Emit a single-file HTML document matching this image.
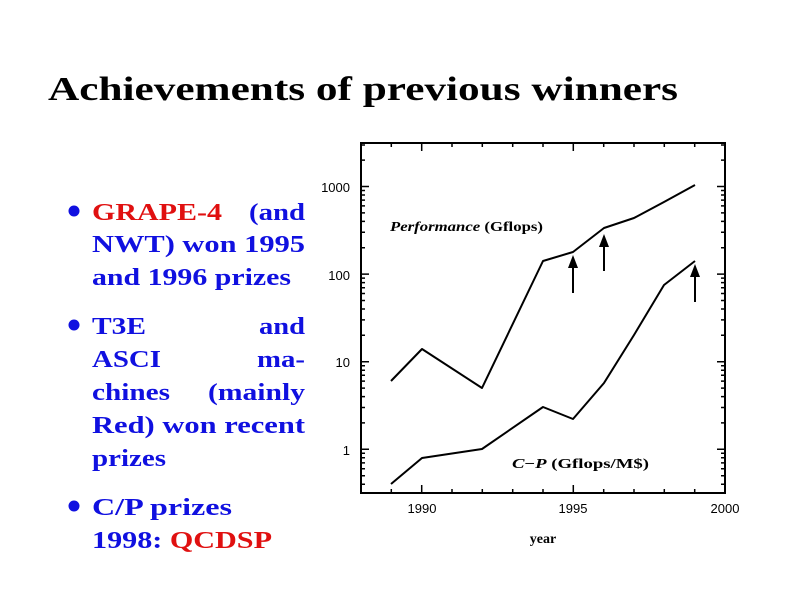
<!DOCTYPE html>
<html><head><meta charset="utf-8"><style>html,body{margin:0;padding:0;background:#fff;}svg{display:block}</style></head>
<body>
<svg width="800" height="600" xmlns="http://www.w3.org/2000/svg">
<g font-family="Liberation Serif, serif" font-weight="bold">
<text x="48" y="100" font-size="34" textLength="630" lengthAdjust="spacingAndGlyphs">Achievements of previous winners</text>
<g font-size="24" fill="#1010e0">
<circle cx="74" cy="211" r="5.5"/>
<circle cx="74" cy="325" r="5.5"/>
<circle cx="74" cy="506" r="5.5"/>
<text x="92" y="220" fill="#e01010" textLength="130" lengthAdjust="spacingAndGlyphs">GRAPE-4</text>
<text x="249" y="220" textLength="56" lengthAdjust="spacingAndGlyphs">(and</text>
<text x="92" y="252" textLength="213" lengthAdjust="spacingAndGlyphs">NWT) won 1995</text>
<text x="92" y="285" textLength="199" lengthAdjust="spacingAndGlyphs">and 1996 prizes</text>
<text x="92" y="334" textLength="54" lengthAdjust="spacingAndGlyphs">T3E</text>
<text x="259" y="334" textLength="46" lengthAdjust="spacingAndGlyphs">and</text>
<text x="92" y="367" textLength="69" lengthAdjust="spacingAndGlyphs">ASCI</text>
<text x="257" y="367" textLength="48" lengthAdjust="spacingAndGlyphs">ma-</text>
<text x="92" y="400" textLength="78" lengthAdjust="spacingAndGlyphs">chines</text>
<text x="208" y="400" textLength="97" lengthAdjust="spacingAndGlyphs">(mainly</text>
<text x="92" y="433" textLength="213" lengthAdjust="spacingAndGlyphs">Red) won recent</text>
<text x="92" y="466" textLength="74" lengthAdjust="spacingAndGlyphs">prizes</text>
<text x="92" y="515" textLength="140" lengthAdjust="spacingAndGlyphs">C/P prizes</text>
<text x="92" y="548" textLength="180" lengthAdjust="spacingAndGlyphs">1998: <tspan fill="#e01010">QCDSP</tspan></text>
</g></g>
<g font-family="Liberation Sans, sans-serif" font-size="13" fill="#000">
<text x="350" y="192" text-anchor="end">1000</text>
<text x="350" y="280" text-anchor="end">100</text>
<text x="350" y="367" text-anchor="end">10</text>
<text x="350" y="455" text-anchor="end">1</text>
<text x="422" y="513" text-anchor="middle">1990</text>
<text x="573" y="513" text-anchor="middle">1995</text>
<text x="725" y="513" text-anchor="middle">2000</text>
<text x="543" y="543" text-anchor="middle" font-weight="bold" font-family="Liberation Serif, serif" font-size="14">year</text>
<text x="390" y="231" font-family="Liberation Serif, serif" font-weight="bold" font-size="14" textLength="153" lengthAdjust="spacingAndGlyphs"><tspan font-style="italic">Performance</tspan> (Gflops)</text>
<text x="512" y="468" font-family="Liberation Serif, serif" font-weight="bold" font-size="14" textLength="137" lengthAdjust="spacingAndGlyphs"><tspan font-style="italic">C</tspan>−<tspan font-style="italic">P</tspan> (Gflops/M$)</text>
</g>
<rect x="361" y="143" width="364" height="350" fill="none" stroke="#000" stroke-width="2"/>
<path stroke="#000" stroke-width="1.5" fill="none" d="
M391.3 493v-4M421.7 493v-8M452 493v-4M482.3 493v-4M512.7 493v-4M543 493v-4M573.3 493v-8M603.7 493v-4M634 493v-4M664.3 493v-4M694.7 493v-4
M391.3 143v4M421.7 143v8M452 143v4M482.3 143v4M512.7 143v4M543 143v4M573.3 143v8M603.7 143v4M634 143v4M664.3 143v4M694.7 143v4
M361 449.3h8M725 449.3h-8M361 361.7h8M725 361.7h-8M361 274.1h8M725 274.1h-8M361 186.5h8M725 186.5h-8
M361 484.2h4M725 484.2h-4M361 475.7h4M725 475.7h-4M361 468.7h4M725 468.7h-4M361 462.9h4M725 462.9h-4M361 457.8h4M725 457.8h-4M361 453.3h4M725 453.3h-4
M361 422.9h4M725 422.9h-4M361 407.5h4M725 407.5h-4M361 396.6h4M725 396.6h-4M361 388.1h4M725 388.1h-4M361 381.1h4M725 381.1h-4M361 375.3h4M725 375.3h-4M361 370.2h4M725 370.2h-4M361 365.7h4M725 365.7h-4
M361 335.3h4M725 335.3h-4M361 319.9h4M725 319.9h-4M361 309h4M725 309h-4M361 300.5h4M725 300.5h-4M361 293.5h4M725 293.5h-4M361 287.7h4M725 287.7h-4M361 282.6h4M725 282.6h-4M361 278.1h4M725 278.1h-4
M361 247.7h4M725 247.7h-4M361 232.3h4M725 232.3h-4M361 221.4h4M725 221.4h-4M361 212.9h4M725 212.9h-4M361 205.9h4M725 205.9h-4M361 200.1h4M725 200.1h-4M361 195h4M725 195h-4M361 190.5h4M725 190.5h-4
M361 160.1h4M725 160.1h-4M361 145h4M725 145h-4"/>
<g fill="none" stroke="#000" stroke-width="2" stroke-linejoin="round">
<polyline points="391,381 422,349 482,388 543,261 573,252 604,228 634,218 664,202 695,185"/>
<polyline points="391,484 422,458 482,449 543,407 573,419 604,383 634,335 664,285 695,261"/>
<line x1="573" y1="293" x2="573" y2="262"/>
<line x1="604" y1="271" x2="604" y2="241"/>
<line x1="695" y1="302" x2="695" y2="270"/>
</g>
<g fill="#000">
<polygon points="573,255 568,268 578,268"/>
<polygon points="604,234 599,247 609,247"/>
<polygon points="695,264 690,277 700,277"/>
</g>
</svg>
</body></html>
